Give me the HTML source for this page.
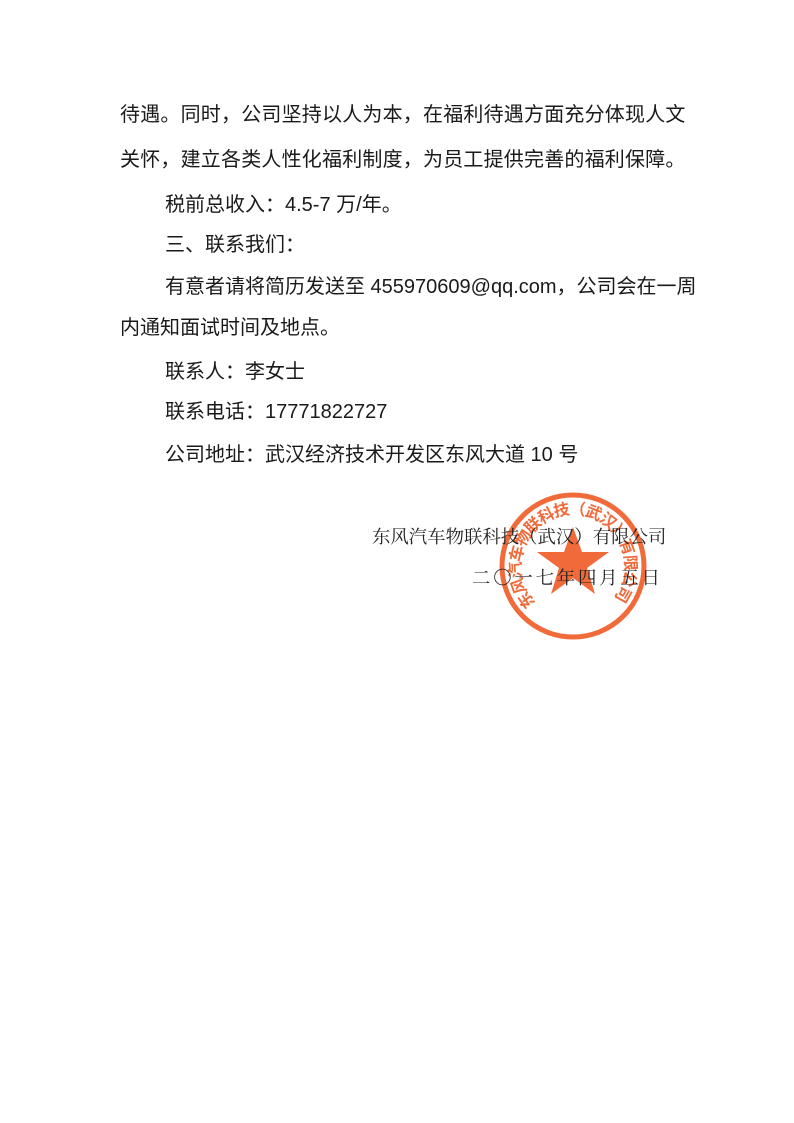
<!DOCTYPE html>
<html><head><meta charset="utf-8"><style>
body{margin:0;width:794px;height:1123px;background:#fff;position:relative;overflow:hidden}
.t{position:absolute;font-family:"Liberation Sans","Noto Sans CJK SC",sans-serif;font-size:20px;color:#1a1a1a;white-space:nowrap;line-height:24px}
.s{position:absolute;font-family:"Liberation Serif","Noto Serif CJK SC",serif;font-size:18.4px;color:#222;white-space:nowrap;line-height:24px}
</style></head><body>
<div class="t" style="left:120px;top:103px;letter-spacing:0.2px">待遇。同时，公司坚持以人为本，在福利待遇方面充分体现人文</div>
<div class="t" style="left:120px;top:148px;letter-spacing:0.2px">关怀，建立各类人性化福利制度，为员工提供完善的福利保障。</div>
<div class="t" style="left:165px;top:193px">税前总收入：4.5-7 万/年。</div>
<div class="t" style="left:165px;top:233px">三、联系我们：</div>
<div class="t" style="left:165px;top:275px">有意者请将简历发送至 455970609@qq.com，公司会在一周</div>
<div class="t" style="left:120px;top:316px">内通知面试时间及地点。</div>
<div class="t" style="left:165px;top:360px">联系人：李女士</div>
<div class="t" style="left:165px;top:400px">联系电话：17771822727</div>
<div class="t" style="left:165px;top:443px">公司地址：武汉经济技术开发区东风大道 10 号</div>
<svg style="position:absolute;left:0;top:0" width="794" height="1123">
<defs><path id="arc" d="M536,603 A52,52 0 1 1 610,603"/></defs>
<circle cx="573" cy="566" r="71" fill="none" stroke="#f06a3a" stroke-width="5"/>
<polygon points="573,527 582,552 609,552 587,568 595,594 573,578 551,594 559,568 537,552 564,552" fill="#f06a3a"/>
<text fill="#f06a3a" font-family="Noto Sans CJK SC" font-weight="bold" font-size="16"><textPath href="#arc" textLength="238" lengthAdjust="spacing">东风汽车物联科技（武汉）有限公司</textPath></text>
</svg>
<div class="s" style="left:372px;top:525px">东风汽车物联科技（武汉）有限公司</div>
<div class="s" style="left:472px;top:566px;letter-spacing:2.8px">二〇一七年四月五日</div>
</body></html>
